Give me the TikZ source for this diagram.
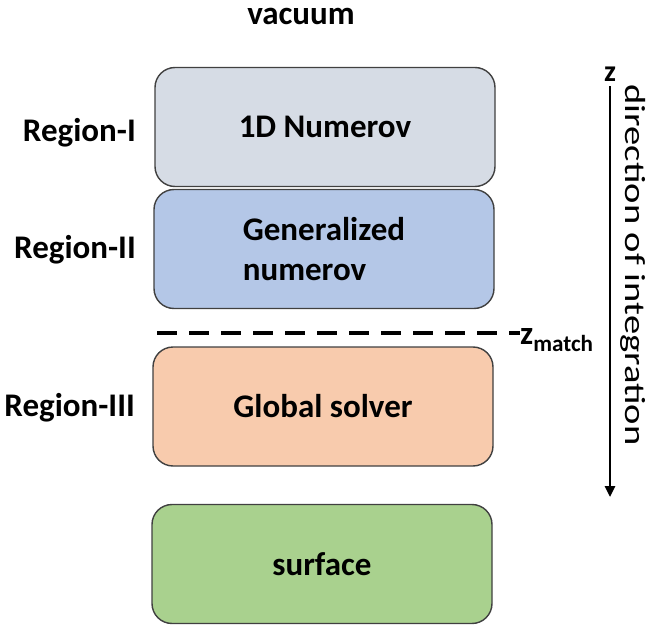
\documentclass[tikz,border=0pt]{standalone}
\usepackage{fontspec}
\setmainfont{Carlito}
\usetikzlibrary{positioning,arrows.meta}

\definecolor{regiongray}{HTML}{D6DCE5}
\definecolor{regionblue}{HTML}{B4C7E7}
\definecolor{regionorange}{HTML}{F8CBAD}
\definecolor{regiongreen}{HTML}{A9D18E}

\begin{document}
\begin{tikzpicture}[x=1pt,y=-1pt]
            \tikzset{
                every node/.style={font=\fontsize{33}{40}\selectfont\bfseries, inner sep=0pt},
                regionbox/.style={draw=black!75, line width=1.4pt, rounded corners=20pt,
                    minimum width=340pt, minimum height=119pt},
                regionlabel/.style={anchor=east}
            }
            \useasboundingbox (0,0) rectangle (649,629);

            % layers
            \node (vacuum) at (301,16) {vacuum};
            \node[regionbox, fill=regiongray] (numerov) at (325,127) {1D Numerov};
            \node[regionbox, fill=regionblue, align=left] (general) at (324,249) {Generalized\\numerov};
            \node[regionbox, fill=regionorange] (global) at (323,406.5) {Global solver};
            \node[regionbox, fill=regiongreen] (surface) at (322,564) {surface};

            % region names
            \node[regionlabel] (regI) at (136,133) {Region-I};
            \node[regionlabel] (regII) at (136,250) {Region-II};
            \node[regionlabel] (regIII) at (135,408) {Region-III};

            % matching plane
            \coordinate (dashl) at (157,333);
            \node[anchor=base west] (zmatch) at (520,344) {z\textsubscript{match}};
            \draw[line width=3.5pt, dash pattern=on 20pt off 12pt] (dashl) -- (dashl -| zmatch.west);

            % integration direction
            \coordinate (ztop) at (610,86);
            \coordinate (zbot) at (610,497);
            \node[above=4pt of ztop, font=\fontsize{30}{36}\selectfont\bfseries] (zlabel) {z};
            \draw[line width=2.6pt, -{Triangle[length=11pt,width=10pt]}] (ztop) -- (zbot);
            \node[rotate=-90, font=\fontsize{29}{36}\selectfont] (direction) at (633,265)
                {\scalebox{1.33}[1]{direction of integration}};
\end{tikzpicture}
\end{document}
